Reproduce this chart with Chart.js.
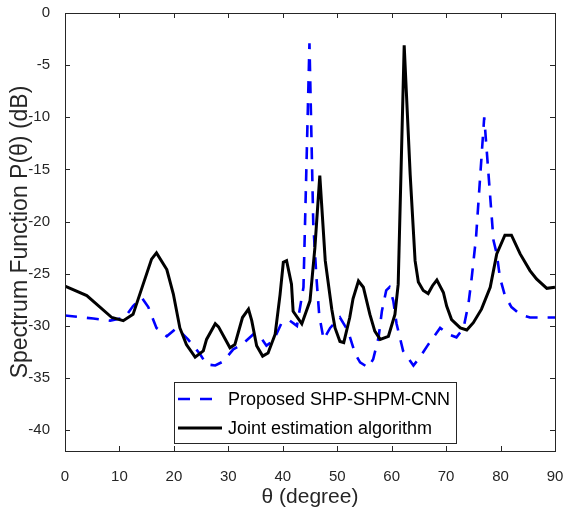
<!DOCTYPE html>
<html>
<head>
<meta charset="utf-8">
<script src="https://cdn.jsdelivr.net/npm/chart.js@4.4.1/dist/chart.umd.min.js"></script>
<style>
  html, body { margin: 0; padding: 0; background: #fff; }
</style>
</head>
<body>
<canvas id="cvs" width="565" height="512"></canvas>
<script>
// values (theta in degrees, P in dB)
const proposedTheta = [0, 5.2, 8.3, 11.0, 12.5, 14.1, 15.3, 16.8, 18.7, 20.5, 22.6, 24.8, 26.0, 27.6, 29.1, 30.9, 32.5, 34.6, 35.8, 37.0, 38.3, 39.8, 41.3, 42.6, 43.8, 44.9, 45.6, 46.2, 46.7, 47.5, 48.7, 50.5, 52.0, 53.3, 54.2, 55.7, 56.6, 57.6, 58.2, 59.0, 59.6, 60.3, 60.9, 62.1, 64.0, 65.2, 66.7, 68.9, 70.4, 71.9, 73.2, 74.1, 74.7, 75.5, 77.0, 78.7, 79.3, 79.9, 80.8, 82.0, 83.6, 85.4, 87.3, 90];
const proposedDb = [-29.0, -29.3, -29.5, -29.2, -28.1, -27.3, -28.2, -30.2, -31.0, -30.2, -31.3, -32.7, -33.7, -33.8, -33.4, -32.25, -31.8, -30.8, -31.0, -31.9, -31.4, -29.7, -29.5, -30.0, -26.3, -2.9, -20.2, -25.5, -29.0, -31.3, -30.2, -29.2, -30.5, -32.7, -33.5, -34.0, -33.2, -31.1, -28.6, -26.6, -26.3, -27.6, -29.8, -32.4, -33.8, -33.0, -31.8, -30.2, -30.8, -31.1, -30.2, -27.9, -25.4, -21.5, -10.0, -21.8, -23.1, -25.4, -27.1, -28.2, -28.9, -29.2, -29.2, -29.2];

const jointTheta = [0, 4.0, 8.6, 10.7, 12.5, 15.9, 16.8, 18.7, 19.9, 21.1, 22.3, 23.9, 25.4, 26.0, 27.6, 28.2, 30.3, 31.2, 32.6, 33.7, 34.3, 35.2, 36.3, 37.3, 38.6, 39.5, 40.1, 40.7, 41.6, 41.9, 43.5, 45.0, 45.9, 46.8, 47.8, 49.0, 49.6, 50.5, 51.2, 52.3, 52.9, 53.9, 54.8, 56.0, 56.9, 57.9, 59.4, 60.6, 61.2, 62.3, 62.7, 63.4, 64.3, 64.9, 65.8, 66.7, 67.5, 68.3, 69.5, 70.1, 71.0, 72.6, 73.8, 75.0, 76.5, 78.1, 79.3, 80.8, 82.0, 83.6, 85.4, 86.6, 88.5, 90];
const jointDb = [-26.2, -27.1, -29.2, -29.5, -28.9, -23.6, -23.0, -24.6, -26.95, -30.2, -31.8, -33.0, -32.4, -31.3, -29.8, -30.1, -32.1, -31.8, -29.2, -28.4, -29.5, -31.9, -32.9, -32.6, -30.8, -27.0, -23.9, -23.75, -26.0, -28.6, -29.8, -27.6, -22.5, -15.6, -23.75, -28.4, -30.2, -31.5, -31.6, -29.2, -27.4, -25.7, -26.3, -28.9, -30.5, -31.3, -31.0, -28.9, -26.0, -3.1, -7.6, -15.5, -23.75, -25.8, -26.6, -26.9, -26.15, -25.6, -26.8, -28.1, -29.4, -30.2, -30.4, -29.7, -28.4, -26.3, -23.1, -21.3, -21.3, -23.1, -24.7, -25.5, -26.4, -26.3];

const seriesNames = ['Proposed SHP-SHPM-CNN', 'Joint estimation algorithm'];
const xTicks = [0, 10, 20, 30, 40, 50, 60, 70, 80, 90];
const yTicks = [0, -5, -10, -15, -20, -25, -30, -35, -40];

const FONT = '"Liberation Sans", Arial, Helvetica, sans-serif';
const AXIS = '#262626';

function pairs(xs, ys) {
    return xs.map((x, i) => ({x: x, y: ys[i]}));
}

// matlab style box with inward ticks
const frame = {
    id: 'frame',
    afterDatasetsDraw(chart) {
        const {ctx, chartArea: a, scales: {x, y}} = chart;
        ctx.save();
        ctx.strokeStyle = AXIS;
        ctx.lineWidth = 1;
        ctx.strokeRect(Math.round(a.left) + .5, Math.round(a.top) + .5,
                       Math.round(a.right - a.left), Math.round(a.bottom - a.top));
        ctx.beginPath();
        x.ticks.forEach(t => {
            let px = Math.round(x.getPixelForValue(t.value)) + .5;
            ctx.moveTo(px, a.bottom); ctx.lineTo(px, a.bottom - 5);
            ctx.moveTo(px, a.top);    ctx.lineTo(px, a.top + 5);
        });
        y.ticks.forEach(t => {
            let py = Math.round(y.getPixelForValue(t.value)) + .5;
            ctx.moveTo(a.left, py);  ctx.lineTo(a.left + 5, py);
            ctx.moveTo(a.right, py); ctx.lineTo(a.right - 5, py);
        });
        ctx.stroke();
        ctx.restore();
    }
};

// legend box inside the axes, lower middle
const boxLegend = {
    id: 'boxLegend',
    afterDraw(chart) {
        const ctx = chart.ctx;
        const bx = 174, by = 382, bw = 282, bh = 61;
        ctx.save();
        ctx.fillStyle = '#fff';
        ctx.fillRect(bx, by, bw, bh);
        ctx.strokeStyle = AXIS;
        ctx.lineWidth = 1;
        ctx.strokeRect(bx + .5, by + .5, bw, bh);
        const rows = [399, 428];
        chart.data.datasets.forEach((ds, i) => {
            let ly = rows[i];
            ctx.beginPath();
            ctx.strokeStyle = ds.borderColor;
            ctx.lineWidth = ds.borderWidth;
            ctx.setLineDash(ds.borderDash || []);
            ctx.moveTo(178, ly);
            ctx.lineTo(222, ly);
            ctx.stroke();
            ctx.setLineDash([]);
            ctx.fillStyle = '#000';
            ctx.font = '18px ' + FONT;
            ctx.textBaseline = 'middle';
            ctx.textAlign = 'left';
            ctx.fillText(ds.label, 228, ly + 1);
        });
        ctx.restore();
    }
};

new Chart(document.getElementById('cvs'), {
    type: 'line',
    data: {
        datasets: [{
            label: seriesNames[0],
            data: pairs(proposedTheta, proposedDb),
            borderColor: '#0000ff',
            borderWidth: 2.6,
            borderDash: [12, 10],
            pointRadius: 0,
            tension: 0,
            order: 1
        }, {
            label: seriesNames[1],
            data: pairs(jointTheta, jointDb),
            borderColor: '#000000',
            borderWidth: 3,
            pointRadius: 0,
            tension: 0,
            order: 0
        }]
    },
    options: {
        responsive: false,
        animation: false,
        devicePixelRatio: 1,
        layout: { padding: { left: 0, top: 13, right: 10, bottom: 0 } },
        plugins: {
            legend: { display: false },
            tooltip: { enabled: false }
        },
        scales: {
            x: {
                type: 'linear',
                min: 0,
                max: 90,
                afterBuildTicks: s => { s.ticks = xTicks.map(v => ({value: v})); },
                afterFit: s => { s.height = 61; s.paddingLeft = 0; s.paddingRight = 0; },
                grid: { display: false },
                border: { display: false },
                ticks: { color: AXIS, font: { family: FONT, size: 15 }, padding: 9, maxRotation: 0 },
                title: {
                    display: true,
                    text: 'θ (degree)',
                    color: AXIS,
                    font: { family: FONT, size: 21 },
                    padding: { top: 2, bottom: 2 }
                }
            },
            y: {
                type: 'linear',
                min: -42,
                max: 0,
                afterBuildTicks: s => { s.ticks = yTicks.map(v => ({value: v})); },
                afterFit: s => { s.width = 65; s.paddingTop = 0; s.paddingBottom = 0; },
                grid: { display: false },
                border: { display: false },
                ticks: { color: AXIS, font: { family: FONT, size: 15 }, padding: 7 },
                title: {
                    display: true,
                    text: 'Spectrum Function P(θ) (dB)',
                    color: AXIS,
                    font: { family: FONT, size: 23 },
                    padding: { top: 7, bottom: 0 }
                }
            }
        }
    },
    plugins: [frame, boxLegend]
});
</script>
</body>
</html>
